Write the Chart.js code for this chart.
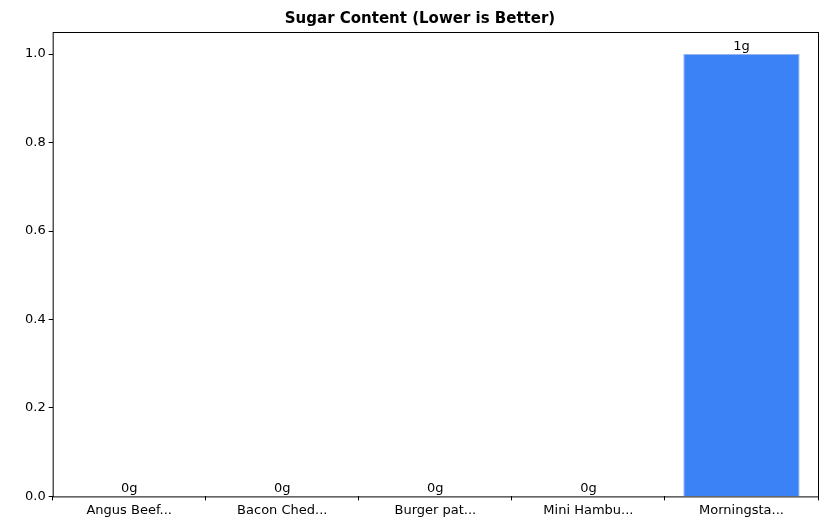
<!DOCTYPE html>
<html>
<head>
<meta charset="utf-8">
<script src="https://cdn.jsdelivr.net/npm/chart.js@4"></script>
<style>body{margin:0;background:#fff}#wrap{width:826px;height:528px}</style>
</head>
<body>
<div id="wrap"><canvas id="c"></canvas></div>
<script>
// Sugar per product
const categories = ["Angus Beef...", "Bacon Ched...", "Burger pat...", "Mini Hambu...", "Morningsta..."];
const sugar = [0, 0, 0, 0, 1];
const yTicks = [0, 0.2, 0.4, 0.6, 0.8, 1.0];

const frame = {
    id: 'frame',
    afterDatasetsDraw(chart) {
        const a = chart.chartArea, ctx = chart.ctx;
        ctx.save();
        ctx.strokeStyle = '#000';
        ctx.lineWidth = 1;
        ctx.strokeRect(a.left + 0.5, a.top + 0.5, a.right - a.left, a.bottom - a.top);
        // value labels
        ctx.fillStyle = '#000';
        ctx.font = '13px "DejaVu Sans"';
        ctx.textAlign = 'center';
        ctx.textBaseline = 'bottom';
        chart.getDatasetMeta(0).data.forEach((bar, i) => {
            ctx.fillText(sugar[i] + 'g', bar.x, bar.y - 1);
        });
        ctx.restore();
    }
};

const tickGrid = { display: true, drawOnChartArea: false, drawTicks: true, tickLength: 4, color: '#000' };

new Chart(document.getElementById('c'), {
    type: 'bar',
    data: {
        labels: categories,
        datasets: [{
            data: sugar,
            backgroundColor: '#3b82f6',
            borderColor: '#93b4f0',
            borderWidth: 1,
            barPercentage: 0.76,
            categoryPercentage: 1
        }]
    },
    options: {
        responsive: true,
        maintainAspectRatio: false,
        animation: false,
        layout: { padding: { left: 22, right: 8, top: 2, bottom: 8 } },
        plugins: {
            legend: { display: false },
            tooltip: { enabled: false },
            title: {
                display: true,
                text: 'Sugar Content (Lower is Better)',
                color: '#000',
                font: { family: 'DejaVu Sans', size: 15, weight: 'bold' },
                padding: { top: 8, bottom: 4 }
            }
        },
        scales: {
            x: {
                grid: tickGrid,
                border: { display: false },
                ticks: { color: '#000', font: { family: 'DejaVu Sans', size: 13 }, padding: 2 }
            },
            y: {
                min: 0,
                max: 1.05,
                afterBuildTicks: s => { s.ticks = yTicks.map(v => ({ value: v })); },
                grid: tickGrid,
                border: { display: false },
                ticks: { color: '#000', font: { family: 'DejaVu Sans', size: 13 }, padding: 3,
                    callback: v => v.toFixed(1) }
            }
        }
    },
    plugins: [frame]
});
</script>
</body>
</html>
